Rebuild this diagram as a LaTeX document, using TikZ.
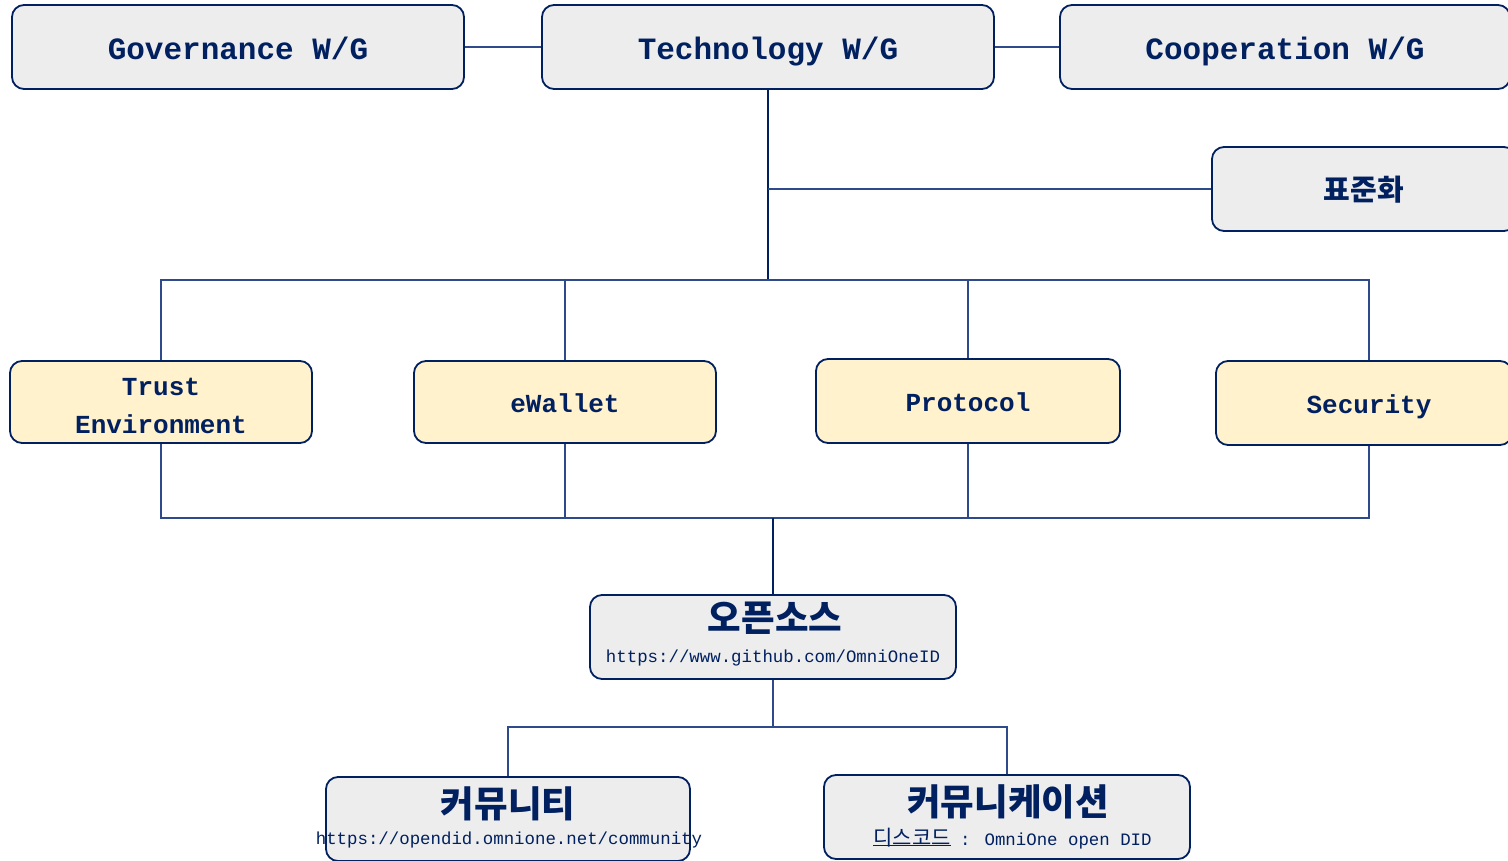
\documentclass[tikz,border=0pt]{standalone}
\usepackage{fontspec}
\newfontfamily\monofam{Liberation Mono}
\newfontfamily\krfam{Noto Sans CJK KR}
\begin{document}
\definecolor{navy}{HTML}{002060}
\definecolor{linkline}{HTML}{2F4A8A}
\definecolor{boxgray}{HTML}{EDEDED}
\definecolor{boxyellow}{HTML}{FFF2CC}
\begin{tikzpicture}[x=1pt,y=-1pt,
  wgbox/.style={draw=navy,line width=1.8pt,rounded corners=12pt,fill=boxgray,
    minimum width=452pt,minimum height=84pt,inner sep=0pt,text=navy,
    text height=24.8pt,text depth=0pt,
    font=\monofam\bfseries\fontsize{31}{36}\selectfont},
  topicbox/.style={draw=navy,line width=1.8pt,rounded corners=12pt,fill=boxyellow,
    minimum width=302pt,minimum height=82pt,inner sep=0pt,text=navy,
    text height=20.8pt,text depth=0pt,
    font=\monofam\bfseries\fontsize{26}{30}\selectfont},
  infobox/.style={draw=navy,line width=1.8pt,rounded corners=12pt,fill=boxgray,
    minimum width=366pt,minimum height=84pt,inner sep=0pt},
  topictext/.style={text=navy,inner sep=0pt,text height=20.8pt,text depth=0pt,
    font=\monofam\bfseries\fontsize{26}{30}\selectfont},
  krtitle/.style={text=navy,inner sep=0pt,font=\krfam\bfseries\fontsize{36.5}{40}\selectfont},
  urltext/.style={text=navy,inner sep=0pt,font=\monofam\fontsize{17.4}{20}\selectfont},
  thin/.style={draw=linkline,line width=1.2pt},
  trunk/.style={draw=navy,line width=2.2pt}
]
\useasboundingbox (0,0) rectangle (1508,861);

% working groups
\node[wgbox] (gov) at (238,47) {Governance W/G};
\node[wgbox] (tech) at (768,47) {Technology W/G};
\node[wgbox,minimum width=450pt] (coop) at (1285,47) {Cooperation W/G};
\node[wgbox,minimum width=304pt,text height=23.2pt,font=\krfam\bfseries\fontsize{29}{34}\selectfont] (std) at (1364,189) {표준화};

% technology topics
\node[topicbox] (trust) at (161,402) {};
\node[topictext] (trustA) at (161,385) {Trust};
\node[topictext] (trustB) at (161,423) {Environment};
\node[topicbox] (wallet) at (565,402) {eWallet};
\node[topicbox,minimum width=304pt,minimum height=84pt] (proto) at (968,401) {Protocol};
\node[topicbox,minimum width=296pt,minimum height=84pt] (sec) at (1364,403) {};
\node[topictext] (secT) at (1369,403) {Security};

% open source and community
\node[infobox] (oss) at (773,637) {};
\node[krtitle] (ossT) at (775,618) {오픈소스};
\node[urltext] (ossU) at (773,658) {https://www.github.com/OmniOneID};

\node[infobox,minimum width=364pt] (comm) at (508,819) {};
\node[krtitle] (commT) at (508,804) {커뮤니티};
\node[urltext] (commU) at (509,840) {https://opendid.omnione.net/community};

\node[infobox] (talk) at (1007,817) {};
\node[krtitle] (talkT) at (1008,802) {커뮤니케이션};
\node[text=navy,inner sep=0pt,font=\krfam\fontsize{21}{24}\selectfont] (talkK) at (912,838) {디스코드};
\draw[navy,line width=0.9pt] ([yshift=2pt]talkK.south west) -- ([yshift=2pt]talkK.south east);
\node[urltext,anchor=west] (talkU) at (960,841) {: OmniOne open DID};

% connectors
\draw[thin] (gov.east) -- (tech.west);
\draw[thin] (tech.east) -- (coop.west);
\coordinate (hub) at (768,280);
\draw[trunk] (tech.south) -- (hub);
\draw[thin] (tech.south |- std.west) -- (std.west);
\draw[thin] (trust.north) |- (hub) -| (sec.north -| secT.north);
\draw[thin] (wallet.north) -- (wallet.north |- hub);
\draw[thin] (proto.north) -- (proto.north |- hub);

\coordinate (merge) at (773,518);
\draw[thin] (trust.south) |- (merge) -| (sec.south -| secT.south);
\draw[thin] (wallet.south) -- (wallet.south |- merge);
\draw[thin] (proto.south) -- (proto.south |- merge);
\draw[trunk] (merge) -- (oss.north);

\coordinate (split) at (773,727);
\draw[thin] (oss.south) -- (split);
\draw[thin] (comm.north) |- (split) -| (talk.north);
\end{tikzpicture}
\end{document}
